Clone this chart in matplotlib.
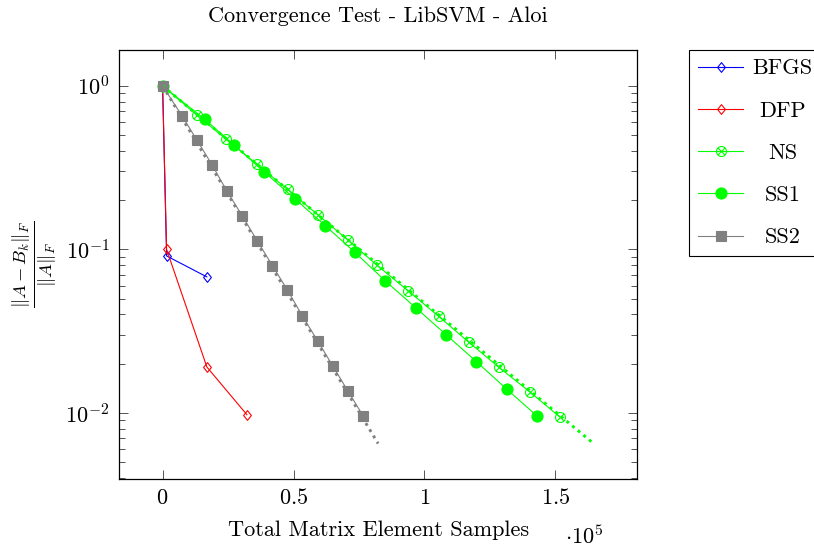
import matplotlib
matplotlib.use("Agg")
import matplotlib.pyplot as plt
from matplotlib.path import Path
from matplotlib.ticker import FixedLocator, FixedFormatter, NullLocator, LogLocator

plt.rcParams['font.family'] = ['cmr10', 'DejaVu Serif']
plt.rcParams['mathtext.fontset'] = 'cm'
plt.rcParams['axes.unicode_minus'] = False
plt.rcParams['axes.formatter.use_mathtext'] = True

# ---------------- data (x in units of 1e5 samples) ----------------
bfgs_x = [0, 0.0153, 0.169]
bfgs_y = [1.0, 0.0912, 0.0679]

dfp_x = [0, 0.0153, 0.169, 0.322]
dfp_y = [1.0, 0.100, 0.0191, 0.00975]

ns_x = [0, 0.131, 0.244, 0.361, 0.477, 0.593, 0.708, 0.818, 0.938, 1.054,
        1.169, 1.285, 1.403, 1.517]
ns_y = [1.0, 0.662, 0.470, 0.331, 0.2326, 0.1628, 0.1140, 0.0802, 0.0558,
        0.0390, 0.0271, 0.01896, 0.01343, 0.00944]

ss1_x = [0, 0.1616, 0.2735, 0.3891, 0.5048, 0.6218, 0.7349, 0.8497, 0.9661,
         1.0835, 1.1983, 1.3146, 1.4298]
ss1_y = [1.0, 0.623, 0.434, 0.297, 0.204, 0.1394, 0.0958, 0.0643, 0.0441,
         0.0300, 0.0206, 0.01396, 0.00958]

ss2_x = [0, 0.0739, 0.1311, 0.1896, 0.2455, 0.304, 0.3612, 0.4197, 0.4768,
         0.534, 0.5925, 0.6497, 0.7069, 0.7654]
ss2_y = [1.0, 0.656, 0.466, 0.3276, 0.2272, 0.1606, 0.1129, 0.0794, 0.0564,
         0.0391, 0.0275, 0.0194, 0.01367, 0.00962]

ns_rate_x = [0, 1.646]
ns_rate_y = [1.0, 0.0065]
ss2_rate_x = [0, 0.823]
ss2_rate_y = [1.0, 0.0065]

xtick_values = [0, 0.5, 1, 1.5]
xtick_labels = ['$0$', '$0.5$', '$1$', '$1.5$']

series_names = ['BFGS', 'DFP', 'NS', 'SS1', 'SS2']

# ---------------- marker shapes ----------------
circ = Path.unit_circle()
d = 0.7071
cross1 = Path([(-d, -d), (d, d)], [Path.MOVETO, Path.LINETO])
cross2 = Path([(-d, d), (d, -d)], [Path.MOVETO, Path.LINETO])
otimes = Path.make_compound_path(circ, cross1, cross2)
diamond = Path([(0, 1), (0.8, 0), (0, -1), (-0.8, 0), (0, 1)],
               [Path.MOVETO, Path.LINETO, Path.LINETO, Path.LINETO, Path.CLOSEPOLY])

BLUE = (0, 0, 1)
RED = (1, 0, 0)
GREEN = (0, 1, 0)
GRAY = (0.5, 0.5, 0.5)

FS = 16
LW = 0.8

fig = plt.figure(figsize=(8.14, 5.5), dpi=100)
ax = fig.add_axes([0.1468, 0.1285, 0.6354, 0.7805])

ax.plot(bfgs_x, bfgs_y, color=BLUE, lw=LW, marker=diamond, ms=7,
        mfc='none', mec=BLUE, mew=LW, label=series_names[0])
ax.plot(dfp_x, dfp_y, color=RED, lw=LW, marker=diamond, ms=7,
        mfc='none', mec=RED, mew=LW, label=series_names[1])
ax.plot(ns_x, ns_y, color=GREEN, lw=LW, marker=otimes, ms=7.2,
        mfc='none', mec=GREEN, mew=LW, label=series_names[2])
ax.plot(ss1_x, ss1_y, color=GREEN, lw=LW, marker='o', ms=8,
        mfc=GREEN, mec=GREEN, mew=LW, label=series_names[3])
ax.plot(ss2_x, ss2_y, color=GRAY, lw=LW, marker='s', ms=7.5,
        mfc=GRAY, mec=GRAY, mew=LW, label=series_names[4])

ax.plot(ns_rate_x, ns_rate_y, color=GREEN, lw=2.1, linestyle=(0, (1, 1.5)),
        dash_capstyle='butt')
ax.plot(ss2_rate_x, ss2_rate_y, color=GRAY, lw=2.1, linestyle=(0, (1, 1.5)),
        dash_capstyle='butt')

ax.set_yscale('log')
ax.set_xlim(-0.1646, 1.8106)
ax.set_ylim(10 ** -2.406, 10 ** 0.219)

ax.xaxis.set_major_locator(FixedLocator(xtick_values))
ax.xaxis.set_major_formatter(FixedFormatter(xtick_labels))
ax.xaxis.set_minor_locator(NullLocator())
ax.yaxis.set_major_locator(LogLocator(base=10, numticks=10))
ax.yaxis.set_minor_locator(LogLocator(base=10, subs=range(2, 10), numticks=20))

ax.tick_params(which='both', direction='in', top=True, right=True,
               width=0.64, labelsize=FS, color='#444444')
ax.tick_params(which='major', length=6.8)
ax.tick_params(which='minor', length=4.5)
ax.tick_params(axis='x', pad=6.5)
ax.tick_params(axis='y', pad=7)

for s in ax.spines.values():
    s.set_linewidth(0.9)

ax.set_title('Convergence Test - LibSVM - Aloi', fontsize=FS, pad=20)
ax.set_xlabel('Total Matrix Element Samples', fontsize=FS, labelpad=8.5)
ax.set_ylabel(r'$\frac{\|A-B_k\|_F}{\|A\|_F}$', fontsize=19, labelpad=5)

fig.text(565 / 814, 6 / 550, r'$\cdot 10^{5}$', fontsize=FS, ha='left', va='baseline')

leg = ax.legend(loc='upper left', bbox_to_anchor=(689 / 814, 1 - 50 / 550),
                bbox_transform=fig.transFigure, fontsize=FS, frameon=True,
                fancybox=False, edgecolor='black', framealpha=1,
                handlelength=2.05, handletextpad=0.42, labelspacing=1.02,
                borderpad=0.4, borderaxespad=0)
leg.get_frame().set_linewidth(0.8)

# centre legend labels within the text column (as pgfplots does)
fig.canvas.draw()
renderer = fig.canvas.get_renderer()
texts = leg.get_texts()
widths = [t.get_window_extent(renderer).width for t in texts]
wmax = max(widths)
for t, w in zip(texts, widths):
    t.set_x((wmax - w) / 2.0)

fig.savefig('out.png', dpi=100)
